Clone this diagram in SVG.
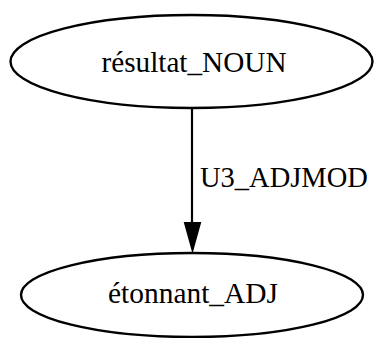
<svg xmlns="http://www.w3.org/2000/svg" width="374" height="338" viewBox="0 0 374 338">
<style>
.node ellipse{fill:none;stroke:#000;stroke-width:2.4}
text{font-family:"Liberation Serif","Times New Roman",serif;font-size:30px;fill:#000}
.edge line{stroke:#000;stroke-width:2.2}
.edge polygon{fill:#000;stroke:#000;stroke-width:2}
.edge text{font-size:28.5px}
</style>
<rect width="374" height="338" fill="#fff"/>
<g id="node1" class="node">
<ellipse cx="191.5" cy="61.5" rx="181" ry="46.5"/>
<text x="194" y="72" text-anchor="middle" textLength="185" lengthAdjust="spacingAndGlyphs">résultat_NOUN</text>
</g>
<g id="node2" class="node">
<ellipse cx="192" cy="295" rx="171" ry="42"/>
<text x="193" y="303" text-anchor="middle" textLength="170" lengthAdjust="spacingAndGlyphs">étonnant_ADJ</text>
</g>
<g id="edges" class="edge">
<line x1="192" y1="108" x2="192" y2="224"/>
<polygon points="185,223 200,223 192.5,250"/>
<text x="200" y="187">U3_ADJMOD</text>
</g>
</svg>
